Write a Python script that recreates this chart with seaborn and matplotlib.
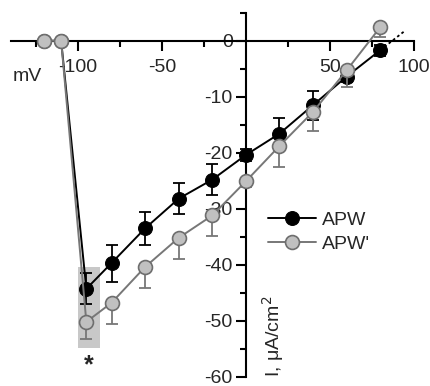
import matplotlib
matplotlib.use("Agg")
import matplotlib.pyplot as plt
import seaborn as sns
import pandas as pd
import numpy as np
from matplotlib.ticker import MultipleLocator, FixedLocator
from matplotlib.patches import Rectangle

# ---- data ----
voltage = [-120, -110, -95, -80, -60, -40, -20, 0, 20, 40, 60, 80]
apw = [0, 0, -44.3, -39.7, -33.5, -28.2, -24.8, -20.4, -16.6, -11.5, -6.4, -1.7]
apw_err = [0, 0, 2.8, 3.3, 3.0, 2.8, 2.8, 1.0, 2.8, 2.6, 1.0, 1.0]
apw2 = [0, 0, -50.2, -46.8, -40.4, -35.2, -31.2, -25.1, -18.8, -12.7, -5.3, 2.4]
apw2_err = [0, 0, 3.0, 3.7, 3.7, 3.8, 3.7, 1.0, 3.7, 3.4, 3.0, 1.8]
extrap_v = [80, 94]
extrap_i = [-1.7, 1.6]
x_ticks = [-100, -50, 50, 100]
y_ticks = [0, -10, -20, -30, -40, -50, -60]

sns.set_style("white")
plt.rcParams['font.family'] = ['Liberation Sans', 'DejaVu Sans']
plt.rcParams['axes.unicode_minus'] = False

fig = plt.figure(figsize=(4.31, 3.86), dpi=100)
ax = fig.add_axes([0.025, 0.024, 0.935, 0.943])

df1 = pd.DataFrame({"V": voltage, "I": apw})
df2 = pd.DataFrame({"V": voltage, "I": apw2})

# highlight box around significant point
ax.add_patch(Rectangle((-100, -54.8), 13, 14.4, facecolor="#c8c8c8", edgecolor="none", zorder=0))

# black series
ax.errorbar(voltage, apw, yerr=apw_err, fmt="none", ecolor="black", elinewidth=1.3,
            capsize=4.5, capthick=1.3, zorder=2)
sns.lineplot(data=df1, x="V", y="I", ax=ax, color="black", marker="o", markersize=10,
             markerfacecolor="black", markeredgecolor="black", linewidth=1.4,
             label="APW", zorder=3, sort=False)
ax.plot(extrap_v, extrap_i, color="black", linestyle=(0, (1.5, 1.5)), linewidth=1.3, zorder=2)

# gray series (lower error bars only)
ax.errorbar(voltage, apw2, yerr=[apw2_err, [0] * len(apw2_err)], fmt="none", ecolor="#777777",
            elinewidth=1.3, capsize=4.5, capthick=1.3, zorder=4)
sns.lineplot(data=df2, x="V", y="I", ax=ax, color="#777777", marker="o", markersize=10,
             markerfacecolor="#c0c0c0", markeredgecolor="#6e6e6e", markeredgewidth=1.2,
             linewidth=1.4, label="APW'", zorder=5, sort=False)

ax.set_xlim(-140, 100)
ax.set_ylim(-60, 5)

# centered spines
for s in ["top", "right"]:
    ax.spines[s].set_visible(False)
ax.spines["left"].set_position(("data", 0))
ax.spines["bottom"].set_position(("data", 0))
for s in ["left", "bottom"]:
    ax.spines[s].set_linewidth(1.5)
    ax.spines[s].set_color("black")
    ax.spines[s].set_zorder(1)

ax.xaxis.set_major_locator(FixedLocator(x_ticks))
ax.xaxis.set_minor_locator(FixedLocator([-125, -75, -25, 25, 75]))
ax.yaxis.set_major_locator(FixedLocator(y_ticks))
ax.yaxis.set_minor_locator(FixedLocator([5, -5, -15, -25, -35, -45, -55]))
ax.tick_params(axis="both", which="both", bottom=True, left=True, top=False, right=False)
ax.tick_params(axis="both", which="major", direction="out", length=7, width=1.5,
               labelsize=14, color="black", pad=2.5)
ax.tick_params(axis="x", which="major", pad=6)
ax.tick_params(axis="both", which="minor", direction="out", length=4, width=1.5, color="black")
ax.set_xticklabels([str(v) for v in x_ticks])
ax.set_yticklabels([str(v) for v in y_ticks])
for lab in ax.get_yticklabels():
    lab.set_bbox(dict(facecolor="white", edgecolor="none", pad=0.5))
ax.set_xlabel("")
ax.set_ylabel("")

ax.text(-130, -6.3, "mV", fontsize=14, ha="center", va="center")
ax.text(16.0, -52.7, "I, \u03bcA/cm$^2$", fontsize=14, rotation=90, ha="center", va="center")
ax.text(-93.5, -58.0, "*", fontsize=18, ha="center", va="center", fontweight="bold")

leg = ax.legend(loc="upper left", bbox_to_anchor=(0.638, 0.455), frameon=False, fontsize=14,
                handlelength=2.5, handletextpad=0.3, labelspacing=0.35, borderpad=0,
                borderaxespad=0)

fig.savefig("out.png", dpi=100)
